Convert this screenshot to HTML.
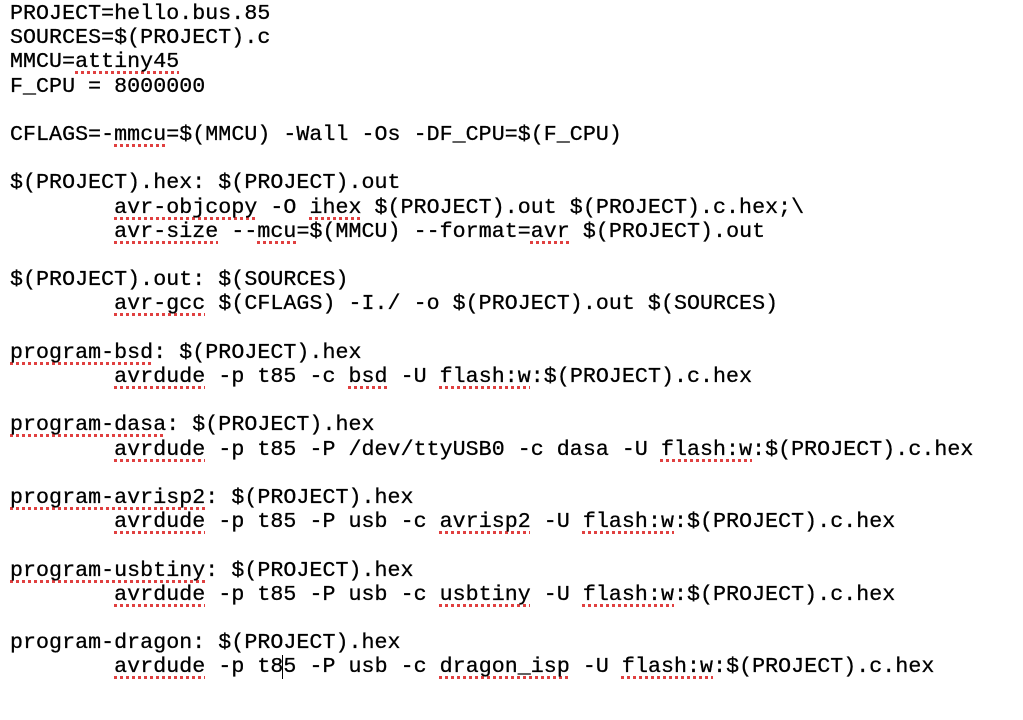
<!DOCTYPE html>
<html><head><meta charset="utf-8"><style>
html,body{margin:0;padding:0;background:#fff;width:1023px;height:720px;overflow:hidden}
pre{margin:0;position:absolute;left:10px;top:2px;font-family:"Liberation Mono",monospace;font-size:21.6px;line-height:24.2px;color:#000;tab-size:8;letter-spacing:0.06px;-webkit-text-stroke:0.3px #000}
.s{text-decoration:underline dotted #e04040;text-decoration-thickness:3px;text-underline-offset:4px;text-decoration-skip-ink:none}
</style></head><body>
<pre>PROJECT=hello.bus.85
SOURCES=$(PROJECT).c
MMCU=<span class="s">attiny45</span>
F_CPU = 8000000

CFLAGS=-<span class="s">mmcu</span>=$(MMCU) -Wall -Os -DF_CPU=$(F_CPU)

$(PROJECT).hex: $(PROJECT).out
        <span class="s">avr-objcopy</span> -O <span class="s">ihex</span> $(PROJECT).out $(PROJECT).c.hex;\
        <span class="s">avr-size</span> --<span class="s">mcu</span>=$(MMCU) --format=<span class="s">avr</span> $(PROJECT).out

$(PROJECT).out: $(SOURCES)
        <span class="s">avr-gcc</span> $(CFLAGS) -I./ -o $(PROJECT).out $(SOURCES)

<span class="s">program-bsd</span>: $(PROJECT).hex
        <span class="s">avrdude</span> -p t85 -c <span class="s">bsd</span> -U <span class="s">flash:w</span>:$(PROJECT).c.hex

<span class="s">program-dasa</span>: $(PROJECT).hex
        <span class="s">avrdude</span> -p t85 -P /dev/ttyUSB0 -c dasa -U <span class="s">flash:w</span>:$(PROJECT).c.hex

<span class="s">program-avrisp2</span>: $(PROJECT).hex
        <span class="s">avrdude</span> -p t85 -P usb -c <span class="s">avrisp2</span> -U <span class="s">flash:w</span>:$(PROJECT).c.hex

<span class="s">program-usbtiny</span>: $(PROJECT).hex
        <span class="s">avrdude</span> -p t85 -P usb -c <span class="s">usbtiny</span> -U <span class="s">flash:w</span>:$(PROJECT).c.hex

program-dragon: $(PROJECT).hex
        <span class="s">avrdude</span> -p t8<span style="border-left:1.5px solid #000;margin-left:-1px">5</span> -P usb -c <span class="s">dragon_isp</span> -U <span class="s">flash:w</span>:$(PROJECT).c.hex
</pre>
</body></html>
